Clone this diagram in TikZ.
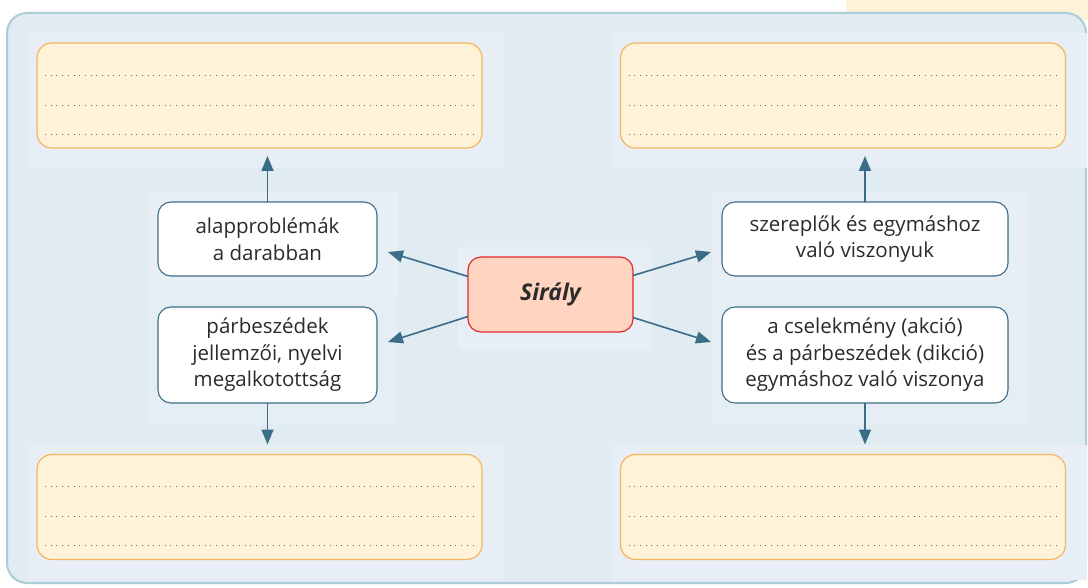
\documentclass[tikz,border=0pt]{standalone}
\usepackage{fontspec}
\setmainfont{Open Sans}
\usepackage{tikz}
\usetikzlibrary{positioning, arrows.meta, calc}
\definecolor{panelblue}{HTML}{E0EBF2}
\definecolor{panelrim}{HTML}{AECBD8}
\definecolor{glowblue}{HTML}{E7EEF6}
\definecolor{notefill}{HTML}{FEF3D8}
\definecolor{noterim}{HTML}{F8B45E}
\definecolor{topicrim}{HTML}{3D6E87}
\definecolor{seagullfill}{HTML}{FFD5C2}
\definecolor{seagullrim}{HTML}{E3282B}
\definecolor{linkblue}{HTML}{3A6E88}
\definecolor{inkgray}{HTML}{2B2B2B}

\begin{document}
\begin{tikzpicture}[x=1pt, y=-1pt,
  notebox/.style={draw=noterim, fill=notefill, line width=1.2pt, rounded corners=15pt,
    minimum width=445pt, minimum height=105pt, outer sep=0pt},
  topicbox/.style={draw=topicrim, fill=white, line width=1.1pt, rounded corners=13pt,
    minimum width=219pt, outer sep=0pt, align=center, text=inkgray,
    font=\fontsize{20.5}{26.5}\selectfont},
  writeline/.style={draw=black!60, line width=0.8pt, dash pattern=on 0.8pt off 4.9pt},
  link/.style={draw=linkblue, line width=1.6pt, -{Triangle[length=15pt, width=12pt]}}]

  \useasboundingbox (0,0) rectangle (1088,588);

  % Corner patch and panel
  \fill[notefill] (846,0) rectangle (1088,20);
  \draw[panelrim, fill=panelblue, line width=2pt, rounded corners=20pt]
    (7,13) rectangle (1086,583);

  % Light glow behind the boxes
  \fill[glowblue] (28,33) rectangle (503,168);
  \fill[glowblue] (612,33) rectangle (1087,168);
  \fill[glowblue] (28,445) rectangle (503,580);
  \fill[glowblue] (612,445) rectangle (1087,580);
  \fill[glowblue] (148,192) rectangle (398,296);
  \fill[glowblue!70!panelblue] (148,296) rectangle (398,425);
  \fill[glowblue] (712,192) rectangle (1028,296);
  \fill[glowblue!70!panelblue] (712,296) rectangle (1028,425);
  \fill[glowblue] (458,247) rectangle (653,350);

  % Answer boxes
  \node[notebox] (noteTL) at (259.5,95.5) {};
  \node[notebox] (noteTR) at (843,95.5) {};
  \node[notebox] (noteBL) at (259.5,507) {};
  \node[notebox] (noteBR) at (843,507) {};
  \foreach \b in {noteTL,noteTR,noteBL,noteBR}{
    \foreach \dy in {20.5,-9.5,-38.5}{
      \draw[writeline] ([xshift=8pt, yshift=\dy pt]\b.west) -- ([xshift=-8pt, yshift=\dy pt]\b.east);
    }
  }

  % Topic boxes
  \node[topicbox, minimum height=74pt] (problems) at (267.5,239)
    {alapproblémák\\a darabban};
  \node[topicbox, minimum height=96pt] (dialogue) at (267.5,355)
    {párbeszédek\\jellemzői, nyelvi\\megalkotottság};
  \node[topicbox, minimum width=286pt, minimum height=74pt] (roles) at (865,239)
    {szereplők és egymáshoz\\való viszonyuk};
  \node[topicbox, minimum width=286pt, minimum height=96pt] (action) at (865,355)
    {a cselekmény (akció)\\és a párbeszédek (dikció)\\egymáshoz való viszonya};

  % Centre
  \node[draw=seagullrim, fill=seagullfill, line width=1.2pt, rounded corners=13pt,
    minimum width=165pt, minimum height=75pt, outer sep=0pt, text=inkgray,
    font=\fontsize{23}{26}\selectfont\bfseries\itshape]
    (siraly) at (550.5,294.5) {Sirály};

  % Links from the centre
  \draw[link] ([yshift=18pt]siraly.west) -- ([xshift=11pt, yshift=-13pt]problems.east);
  \draw[link] ([yshift=-22pt]siraly.west) -- ([xshift=11pt, yshift=13pt]dialogue.east);
  \draw[link] ([yshift=19pt]siraly.east) -- ([xshift=-11pt, yshift=-13pt]roles.west);
  \draw[link] ([yshift=-23pt]siraly.east) -- ([xshift=-11pt, yshift=13pt]action.west);

  % Links to the answer boxes
  \draw[link, shorten >=8pt] (problems.north) -- (problems.north |- noteTL.south);
  \draw[link, shorten >=8pt] (roles.north) -- (roles.north |- noteTR.south);
  \draw[link, shorten >=10pt] (dialogue.south) -- (dialogue.south |- noteBL.north);
  \draw[link, shorten >=10pt] (action.south) -- (action.south |- noteBR.north);
\end{tikzpicture}
\end{document}
